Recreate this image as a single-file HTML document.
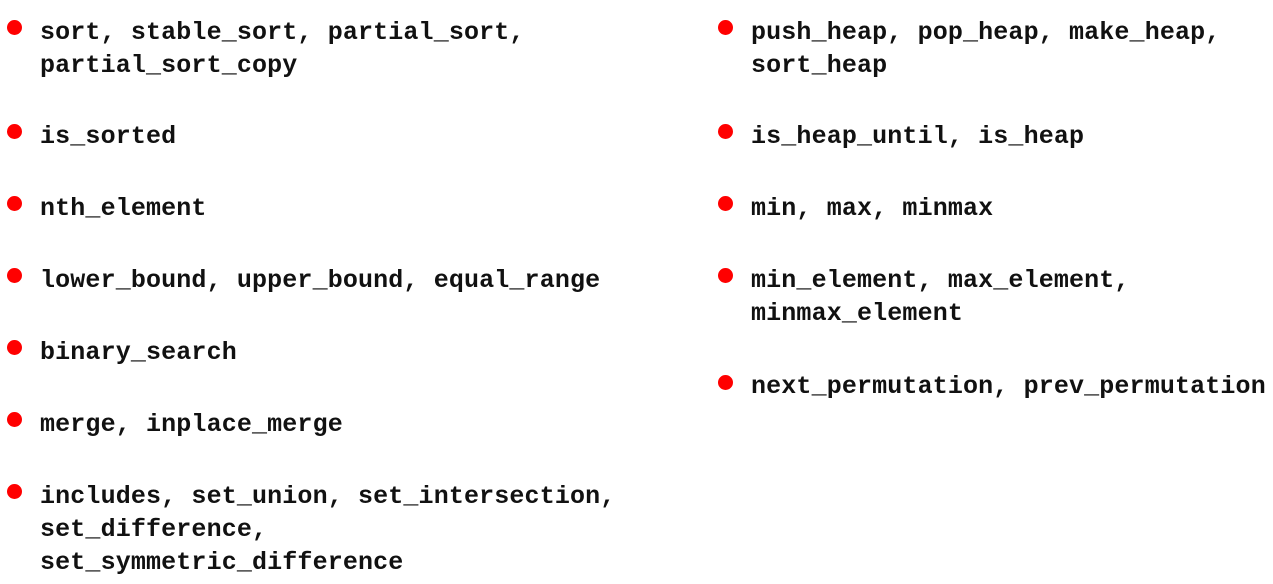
<!DOCTYPE html>
<html><head><meta charset="utf-8"><style>
html,body{margin:0;padding:0;background:#fff;width:1273px;height:584px;overflow:hidden;position:relative}
.t{position:absolute;font-family:"Liberation Mono","DejaVu Sans Mono",monospace;font-weight:bold;font-size:25px;letter-spacing:0.14px;line-height:33px;color:#111;white-space:pre}
.b{position:absolute;width:15px;height:15px;border-radius:50%;background:#f00}
</style></head><body>
<div class="b" style="left:7px;top:20px"></div><div class="t" style="left:40px;top:16px">sort, stable_sort, partial_sort,
partial_sort_copy</div>
<div class="b" style="left:7px;top:124px"></div><div class="t" style="left:40px;top:120px">is_sorted</div>
<div class="b" style="left:7px;top:196px"></div><div class="t" style="left:40px;top:192px">nth_element</div>
<div class="b" style="left:7px;top:268px"></div><div class="t" style="left:40px;top:264px">lower_bound, upper_bound, equal_range</div>
<div class="b" style="left:7px;top:340px"></div><div class="t" style="left:40px;top:336px">binary_search</div>
<div class="b" style="left:7px;top:412px"></div><div class="t" style="left:40px;top:408px">merge, inplace_merge</div>
<div class="b" style="left:7px;top:484px"></div><div class="t" style="left:40px;top:480px">includes, set_union, set_intersection,
set_difference,
set_symmetric_difference</div>

<div class="b" style="left:718px;top:20px"></div><div class="t" style="left:751px;top:16px">push_heap, pop_heap, make_heap,
sort_heap</div>
<div class="b" style="left:718px;top:124px"></div><div class="t" style="left:751px;top:120px">is_heap_until, is_heap</div>
<div class="b" style="left:718px;top:196px"></div><div class="t" style="left:751px;top:192px">min, max, minmax</div>
<div class="b" style="left:718px;top:268px"></div><div class="t" style="left:751px;top:264px">min_element, max_element,
minmax_element</div>
<div class="b" style="left:718px;top:375px"></div><div class="t" style="left:751px;top:370px">next_permutation, prev_permutation</div>
</body></html>
